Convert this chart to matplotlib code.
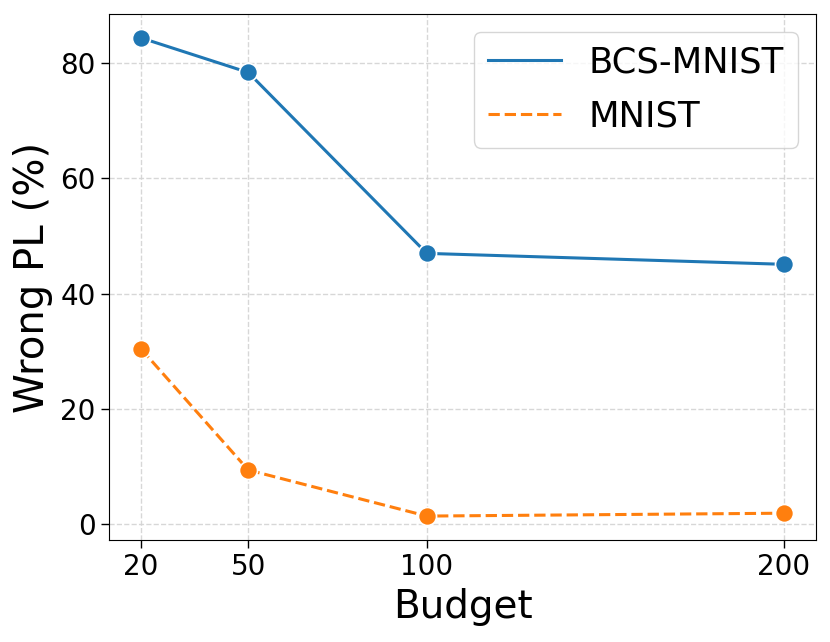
import matplotlib
matplotlib.use("Agg")
import matplotlib.pyplot as plt

# Data
budgets = [20, 50, 100, 200]
bcs_mnist = [84.4, 78.4, 47.0, 45.1]
mnist = [30.4, 9.4, 1.4, 1.9]

fig = plt.figure(figsize=(8.3, 6.42), dpi=100)
ax = fig.add_axes([0.1313, 0.1589, 0.8518, 0.8193])

ax.plot(budgets, bcs_mnist, color="#1f77b4", linestyle="-", linewidth=2.2,
        marker="o", markersize=13, markeredgecolor="white", markeredgewidth=1.2,
        label="BCS-MNIST")
ax.plot(budgets, mnist, color="#ff7f0e", linestyle="--", linewidth=2.2,
        marker="o", markersize=13, markeredgecolor="white", markeredgewidth=1.2,
        label="MNIST")

ax.set_xticks(budgets)
ax.set_yticks([0, 20, 40, 60, 80])
ax.tick_params(axis="both", labelsize=20, length=6, width=1)
ax.set_xlabel("Budget", fontsize=28, labelpad=5)
ax.set_ylabel("Wrong PL (%)", fontsize=29, labelpad=5)
ax.grid(True, linestyle="--", color="lightgray", alpha=0.9, linewidth=1)

leg = ax.legend(fontsize=25.5, loc="upper right", handlelength=2.05,
                borderpad=0.4, labelspacing=0.55, handletextpad=0.8)
for h in leg.legend_handles:
    h.set_marker("")

fig.savefig("out.png", dpi=100)
